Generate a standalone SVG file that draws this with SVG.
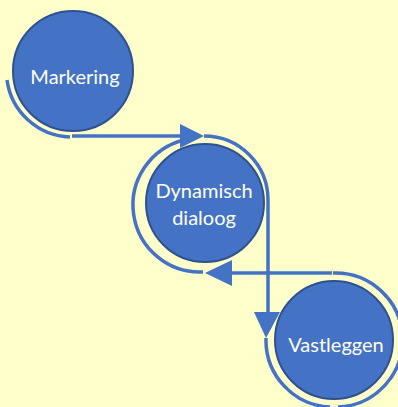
<svg xmlns="http://www.w3.org/2000/svg" width="398" height="407" viewBox="0 0 398 407">
<style>
.node{fill:#4472C4;stroke:#2F528F;stroke-width:2}
.lbl{font-family:Lato,"Open Sans","Liberation Sans",sans-serif;font-size:20px;fill:#FFFFFF;text-anchor:middle}
.ring{fill:none;stroke:#4472C4;stroke-width:3.5}
.head{fill:#4472C4}
</style>
<rect width="398" height="407" fill="#FFFFCC"/>
<g id="connectors">
<path class="ring" d="M 7,80 A 66 66 0 0 0 70,137"/>
<path class="ring" d="M 72,136 L 184,136"/>
<polygon class="head" points="180,124 204,136 180,148"/>
<path class="ring" d="M 204,136 A 64 64 0 0 1 268,200 L 268,316"/>
<polygon class="head" points="254,312 280,312 266,338"/>
<path class="ring" d="M 184,140 A 67 67 0 0 0 203,272"/>
<path class="ring" d="M 228,273 L 332,273"/>
<polygon class="head" points="232,260 205,273 232,286"/>
<path class="ring" d="M 333,273 A 67 67 0 0 1 338,407"/>
<path class="ring" d="M 266,338 A 67 67 0 0 0 330,407"/>
</g>
<g id="markering">
<circle class="node" cx="73" cy="71" r="60"/>
<text class="lbl" x="75" y="84">Markering</text>
</g>
<g id="dynamisch-dialoog">
<circle class="node" cx="205" cy="203" r="59"/>
<text class="lbl" x="204" y="198">Dynamisch</text>
<text class="lbl" x="204" y="225">dialoog</text>
</g>
<g id="vastleggen">
<circle class="node" cx="334" cy="340" r="59"/>
<text class="lbl" x="336" y="352">Vastleggen</text>
</g>
</svg>
